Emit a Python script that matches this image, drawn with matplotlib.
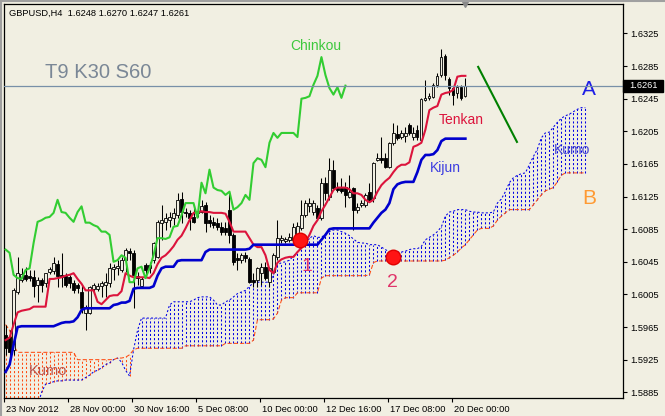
import numpy as np
import matplotlib
matplotlib.use('Agg')
import matplotlib.pyplot as plt
import matplotlib.transforms as mtransforms
from matplotlib.patches import Rectangle
from matplotlib.lines import Line2D

plt.rcParams['font.family'] = ['Liberation Sans', 'DejaVu Sans']

header = "GBPUSD,H4  1.6248 1.6270 1.6247 1.6261"
settings_text = "T9 K30 S60"
shift = 30  # kumo forward / chinkou backward shift

# H4 candles, bar 0 = 23 Nov 2012 08:00
opens = [1.5955, 1.5953, 1.5937, 1.6008, 1.6023, 1.6029, 1.6028, 1.6026, 1.6017, 1.6023,
         1.6019, 1.6033, 1.6034, 1.6042, 1.6029, 1.6028, 1.6026, 1.6019, 1.6017, 1.6008,
         1.5982, 1.5982, 1.6012, 1.6012, 1.6015, 1.6017, 1.6019, 1.6036, 1.6037, 1.6035,
         1.6047, 1.6058, 1.6056, 1.6028, 1.6015, 1.6041, 1.6041, 1.6047, 1.6051, 1.6093,
         1.6094, 1.6096, 1.6099, 1.6102, 1.6122, 1.6106, 1.6105, 1.6100, 1.6105, 1.6106,
         1.6115, 1.6096, 1.6094, 1.6093, 1.6088, 1.6086, 1.6109, 1.6078, 1.6050, 1.6047,
         1.6053, 1.6048, 1.6023, 1.6023, 1.6031, 1.6039, 1.6020, 1.6033, 1.6051, 1.6072,
         1.6071, 1.6072, 1.6072, 1.6077, 1.6086, 1.6102, 1.6113, 1.6106, 1.6111, 1.6099,
         1.6142, 1.6124, 1.6158, 1.6136, 1.6136, 1.6137, 1.6124, 1.6136, 1.6109, 1.6115,
         1.6115, 1.6131, 1.6123, 1.6170, 1.6172, 1.6172, 1.6161, 1.6191, 1.6202, 1.6198,
         1.6199, 1.6213, 1.6198, 1.6207, 1.6194, 1.6243, 1.6246, 1.6247, 1.6262, 1.6274,
         1.6297, 1.6269, 1.6258, 1.6252, 1.6259, 1.6248]
highs = [1.5968, 1.5961, 1.6013, 1.6051, 1.6037, 1.6039, 1.6035, 1.6035, 1.6026, 1.6025,
         1.6031, 1.6039, 1.6051, 1.6047, 1.6056, 1.6031, 1.6029, 1.6023, 1.6019, 1.6017,
         1.5992, 1.6015, 1.6019, 1.6019, 1.6021, 1.6031, 1.6044, 1.6042, 1.6047, 1.6051,
         1.6062, 1.6062, 1.6060, 1.6033, 1.6026, 1.6044, 1.6045, 1.6069, 1.6096, 1.6115,
         1.6105, 1.6106, 1.6111, 1.6129, 1.6131, 1.6111, 1.6109, 1.6115, 1.6112, 1.6121,
         1.6118, 1.6102, 1.6100, 1.6099, 1.6094, 1.6094, 1.6129, 1.6080, 1.6056, 1.6056,
         1.6057, 1.6051, 1.6031, 1.6039, 1.6044, 1.6045, 1.6039, 1.6056, 1.6096, 1.6078,
         1.6075, 1.6080, 1.6093, 1.6094, 1.6121, 1.6121, 1.6123, 1.6121, 1.6115, 1.6148,
         1.6149, 1.6172, 1.6170, 1.6143, 1.6148, 1.6143, 1.6151, 1.6137, 1.6117, 1.6121,
         1.6129, 1.6142, 1.6167, 1.6178, 1.6198, 1.6178, 1.6192, 1.6215, 1.6213, 1.6207,
         1.6210, 1.6215, 1.6210, 1.6213, 1.6246, 1.6268, 1.6252, 1.6264, 1.6276, 1.6306,
         1.6300, 1.6272, 1.6259, 1.6262, 1.6262, 1.6270]
lows = [1.5931, 1.5928, 1.5931, 1.6006, 1.6020, 1.6021, 1.6021, 1.6002, 1.5996, 1.6008,
        1.6014, 1.6030, 1.6030, 1.6014, 1.6014, 1.6014, 1.6013, 1.6007, 1.6007, 1.5982,
        1.5961, 1.5981, 1.6009, 1.6009, 1.6002, 1.6002, 1.6014, 1.6023, 1.6029, 1.6033,
        1.6033, 1.6047, 1.5988, 1.6017, 1.6014, 1.6026, 1.6031, 1.6044, 1.6050, 1.6072,
        1.6084, 1.6088, 1.6090, 1.6099, 1.6093, 1.6100, 1.6084, 1.6093, 1.6100, 1.6105,
        1.6082, 1.6088, 1.6086, 1.6084, 1.6078, 1.6078, 1.6068, 1.6041, 1.6035, 1.6044,
        1.6045, 1.6019, 1.6014, 1.6014, 1.6017, 1.6023, 1.6014, 1.6031, 1.6047, 1.6068,
        1.6068, 1.6069, 1.6068, 1.6072, 1.6084, 1.6100, 1.6106, 1.6102, 1.6096, 1.6096,
        1.6121, 1.6121, 1.6133, 1.6131, 1.6129, 1.6112, 1.6123, 1.6084, 1.6105, 1.6112,
        1.6112, 1.6118, 1.6118, 1.6169, 1.6166, 1.6160, 1.6160, 1.6188, 1.6194, 1.6196,
        1.6192, 1.6200, 1.6194, 1.6194, 1.6193, 1.6242, 1.6243, 1.6246, 1.6259, 1.6272,
        1.6268, 1.6250, 1.6237, 1.6246, 1.6243, 1.6247]
closes = [1.5939, 1.5934, 1.6010, 1.6031, 1.6030, 1.6024, 1.6025, 1.6015, 1.6023, 1.6017,
          1.6031, 1.6036, 1.6044, 1.6028, 1.6026, 1.6017, 1.6019, 1.6010, 1.6013, 1.5988,
          1.5990, 1.6014, 1.6017, 1.6015, 1.6019, 1.6020, 1.6037, 1.6039, 1.6040, 1.6047,
          1.6060, 1.6056, 1.6029, 1.6025, 1.6024, 1.6035, 1.6037, 1.6068, 1.6094, 1.6096,
          1.6099, 1.6100, 1.6105, 1.6121, 1.6106, 1.6105, 1.6099, 1.6094, 1.6106, 1.6113,
          1.6093, 1.6093, 1.6090, 1.6088, 1.6082, 1.6082, 1.6078, 1.6045, 1.6047, 1.6053,
          1.6050, 1.6020, 1.6020, 1.6037, 1.6039, 1.6025, 1.6037, 1.6053, 1.6074, 1.6074,
          1.6073, 1.6075, 1.6088, 1.6089, 1.6102, 1.6117, 1.6117, 1.6117, 1.6099, 1.6142,
          1.6129, 1.6158, 1.6136, 1.6133, 1.6132, 1.6127, 1.6131, 1.6109, 1.6112, 1.6117,
          1.6127, 1.6121, 1.6166, 1.6172, 1.6170, 1.6161, 1.6191, 1.6203, 1.6197, 1.6203,
          1.6203, 1.6203, 1.6203, 1.6198, 1.6245, 1.6246, 1.6248, 1.6262, 1.6273, 1.6296,
          1.6274, 1.6258, 1.6250, 1.6259, 1.6246, 1.6261]

tenkan = [1.5949, 1.5952, 1.5968, 1.5983, 1.5985, 1.5986, 1.5987, 1.5990, 1.5990, 1.5990,
          1.5990, 1.6024, 1.6024, 1.6025, 1.6026, 1.6028, 1.6029, 1.6031, 1.6024, 1.6018,
          1.6010, 1.6010, 1.6010, 1.5996, 1.5993, 1.5998, 1.6003, 1.6004, 1.6004, 1.6009,
          1.6031, 1.6028, 1.6026, 1.6026, 1.6026, 1.6026, 1.6025, 1.6031, 1.6042, 1.6050,
          1.6053, 1.6058, 1.6064, 1.6072, 1.6077, 1.6086, 1.6096, 1.6105, 1.6106, 1.6107,
          1.6106, 1.6106, 1.6105, 1.6105, 1.6105, 1.6104, 1.6094, 1.6082, 1.6082, 1.6082,
          1.6082, 1.6074, 1.6066, 1.6063, 1.6063, 1.6053, 1.6035, 1.6031, 1.6044, 1.6048,
          1.6050, 1.6051, 1.6051, 1.6057, 1.6062, 1.6069, 1.6078, 1.6089, 1.6096, 1.6107,
          1.6115, 1.6124, 1.6133, 1.6136, 1.6136, 1.6136, 1.6134, 1.6129, 1.6129, 1.6127,
          1.6121, 1.6118, 1.6121, 1.6131, 1.6139, 1.6144, 1.6148, 1.6155, 1.6161, 1.6164,
          1.6164, 1.6167, 1.6186, 1.6188, 1.6191, 1.6207, 1.6231, 1.6234, 1.6236, 1.6250,
          1.6252, 1.6253, 1.6256, 1.6272, 1.6273, 1.6273]
kijun = [1.5910, 1.5919, 1.5943, 1.5965, 1.5966, 1.5966, 1.5966, 1.5966, 1.5966, 1.5966,
         1.5966, 1.5966, 1.5966, 1.5968, 1.5970, 1.5971, 1.5971, 1.5972, 1.5977, 1.5986,
         1.5988, 1.5988, 1.5988, 1.5988, 1.5988, 1.5988, 1.5988, 1.5992, 1.5993, 1.5995,
         1.5995, 1.5997, 1.6012, 1.6013, 1.6013, 1.6013, 1.6013, 1.6015, 1.6028, 1.6037,
         1.6039, 1.6039, 1.6039, 1.6046, 1.6047, 1.6047, 1.6047, 1.6047, 1.6047, 1.6047,
         1.6057, 1.6060, 1.6060, 1.6060, 1.6060, 1.6060, 1.6060, 1.6060, 1.6060, 1.6060,
         1.6060, 1.6061, 1.6066, 1.6066, 1.6066, 1.6066, 1.6066, 1.6066, 1.6066, 1.6066,
         1.6066, 1.6066, 1.6066, 1.6066, 1.6066, 1.6066, 1.6066, 1.6066, 1.6066, 1.6072,
         1.6078, 1.6085, 1.6086, 1.6086, 1.6086, 1.6086, 1.6086, 1.6086, 1.6086, 1.6086,
         1.6086, 1.6086, 1.6093, 1.6099, 1.6105, 1.6109, 1.6117, 1.6134, 1.6140, 1.6142,
         1.6143, 1.6143, 1.6143, 1.6155, 1.6170, 1.6176, 1.6176, 1.6177, 1.6182, 1.6193,
         1.6196, 1.6196, 1.6196, 1.6196, 1.6196, 1.6196]

# senkou spans as plotted (already shifted 30 bars forward)
span_a = [1.5868, 1.5868, 1.5868, 1.5868, 1.5868, 1.5868, 1.5868, 1.5868, 1.5868, 1.5885,
          1.5895, 1.5896, 1.5898, 1.5899, 1.5899, 1.5900, 1.5900, 1.5900, 1.5900, 1.5900,
          1.5903, 1.5906, 1.5910, 1.5912, 1.5915, 1.5919, 1.5921, 1.5925, 1.5927, 1.5922,
          1.5912, 1.5905, 1.5937, 1.5961, 1.5976, 1.5976, 1.5976, 1.5976, 1.5976, 1.5976,
          1.5976, 1.5992, 1.5996, 1.5996, 1.5996, 1.5996, 1.5996, 1.5998, 1.6001, 1.6002,
          1.6002, 1.6002, 1.5998, 1.5992, 1.5992, 1.5996, 1.5998, 1.6002, 1.6006, 1.6008,
          1.6010, 1.6015, 1.6019, 1.6020, 1.6020, 1.6020, 1.6020, 1.6029, 1.6041, 1.6044,
          1.6045, 1.6047, 1.6052, 1.6057, 1.6063, 1.6069, 1.6074, 1.6077, 1.6075, 1.6075,
          1.6079, 1.6082, 1.6084, 1.6084, 1.6082, 1.6080, 1.6077, 1.6073, 1.6069, 1.6068,
          1.6068, 1.6066, 1.6066, 1.6066, 1.6063, 1.6060, 1.6057, 1.6057, 1.6057, 1.6057,
          1.6058, 1.6060, 1.6061, 1.6061, 1.6064, 1.6072, 1.6075, 1.6078, 1.6082, 1.6088,
          1.6101, 1.6106, 1.6107, 1.6109, 1.6109, 1.6109, 1.6107, 1.6106, 1.6106, 1.6105,
          1.6105, 1.6105, 1.6106, 1.6117, 1.6122, 1.6131, 1.6142, 1.6148, 1.6151, 1.6153,
          1.6154, 1.6164, 1.6174, 1.6183, 1.6197, 1.6203, 1.6204, 1.6210, 1.6216, 1.6221,
          1.6224, 1.6226, 1.6229, 1.6232, 1.6234, 1.6234]
span_b = [1.5968, 1.5961, 1.5943, 1.5934, 1.5934, 1.5934, 1.5934, 1.5934, 1.5934, 1.5934,
          1.5934, 1.5934, 1.5934, 1.5934, 1.5934, 1.5934, 1.5934, 1.5934, 1.5925, 1.5925,
          1.5925, 1.5925, 1.5925, 1.5925, 1.5925, 1.5925, 1.5925, 1.5925, 1.5927, 1.5927,
          1.5928, 1.5931, 1.5937, 1.5939, 1.5939, 1.5939, 1.5939, 1.5939, 1.5939, 1.5939,
          1.5939, 1.5939, 1.5939, 1.5939, 1.5939, 1.5942, 1.5942, 1.5942, 1.5942, 1.5942,
          1.5942, 1.5942, 1.5942, 1.5942, 1.5942, 1.5945, 1.5945, 1.5945, 1.5945, 1.5945,
          1.5945, 1.5945, 1.5949, 1.5974, 1.5974, 1.5974, 1.5974, 1.5975, 1.5982, 1.5998,
          1.6001, 1.6001, 1.6001, 1.6007, 1.6007, 1.6007, 1.6007, 1.6007, 1.6007, 1.6025,
          1.6028, 1.6028, 1.6028, 1.6028, 1.6028, 1.6028, 1.6028, 1.6028, 1.6028, 1.6028,
          1.6028, 1.6029, 1.6044, 1.6046, 1.6046, 1.6046, 1.6046, 1.6046, 1.6046, 1.6046,
          1.6046, 1.6046, 1.6046, 1.6046, 1.6046, 1.6046, 1.6046, 1.6046, 1.6046, 1.6046,
          1.6047, 1.6050, 1.6053, 1.6057, 1.6062, 1.6066, 1.6072, 1.6078, 1.6084, 1.6086,
          1.6086, 1.6086, 1.6089, 1.6096, 1.6101, 1.6105, 1.6109, 1.6109, 1.6109, 1.6109,
          1.6109, 1.6109, 1.6115, 1.6121, 1.6127, 1.6132, 1.6134, 1.6136, 1.6143, 1.6151,
          1.6154, 1.6154, 1.6154, 1.6154, 1.6154, 1.6154]

date_labels = ['23 Nov 2012', '28 Nov 00:00', '30 Nov 16:00', '5 Dec 08:00',
               '10 Dec 00:00', '12 Dec 16:00', '17 Dec 08:00', '20 Dec 00:00']
date_bars = [0, 16, 32, 48, 64, 80, 96, 112]
price_ticks = [1.5885, 1.5925, 1.5965, 1.6005, 1.6045, 1.6085,
               1.6125, 1.6165, 1.6205, 1.6245, 1.6285, 1.6325]

# user drawn objects
trend_x = [118.2, 127.9]
trend_y = [1.6284, 1.6192]
signal_x = [73.7, 96.9]
signal_y = [1.6072, 1.6051]

bg = '#F1EFE2'
c_tenkan = '#DC143C'
c_kijun = '#0000CD'
c_chinkou = '#32CD32'
c_a = '#0000E6'
c_b = '#FF4A10'

fig = plt.figure(figsize=(6.65, 4.16), dpi=100, facecolor=bg)
ax = fig.add_axes([4 / 665, 1 - 398 / 416, 619.3 / 665, 394 / 416])
ax.set_facecolor(bg)

o = np.array(opens); h = np.array(highs); l = np.array(lows); c = np.array(closes)
x = np.arange(len(c))

# kumo hatching: one dotted vertical per bar
a = np.array(span_a); b = np.array(span_b)
xk = np.arange(len(a))
cols = np.where(a >= b, c_a, c_b)
ax.vlines(xk, np.minimum(a, b), np.maximum(a, b), colors=cols,
          linestyles=(0, (2, 2)), lw=0.75, zorder=1)
ax.plot(xk, a, color=c_a, lw=0.75, ls=(0, (2, 2)), zorder=1)
ax.plot(xk, b, color=c_b, lw=0.75, ls=(0, (4, 2)), zorder=1)

# candles
up = c >= o
ax.vlines(x, l, h, color='black', lw=0.75, zorder=2)
ax.bar(x, np.maximum(np.abs(c - o), 0.00004), bottom=np.minimum(o, c), width=0.55,
       color=np.where(up, bg, 'black'), edgecolor='black', lw=0.6, zorder=3)

# ichimoku lines
ax.plot(x, tenkan, color=c_tenkan, lw=1.5, zorder=4)
ax.plot(x, kijun, color=c_kijun, lw=1.9, zorder=4)
ax.plot(x[shift:] - shift, c[shift:], color=c_chinkou, lw=1.5, zorder=4)

# current price line
ax.axhline(c[-1], color='#7890A8', lw=0.9, zorder=5)

# trend line and signal points
ax.plot(trend_x, trend_y, color='#008000', lw=1.5, zorder=6)
ax.plot(signal_x, signal_y, 'o', ms=10.5, color='#FF1414', mec='#E00000', zorder=7)

# labels on chart
ax.text(9.9, 1.6270, settings_text, fontsize=14.5, color='#7A8796', va='baseline')
ax.text(77.7, 1.6310, 'Chinkou', fontsize=10, color='#3CC83C', ha='center', va='center')
ax.text(113.9, 1.6219, 'Tenkan', fontsize=10, color=c_tenkan, ha='center', va='center')
ax.text(110.1, 1.6160, 'Kijun', fontsize=10, color='#3C3CE0', ha='center', va='center')
ax.text(141.8, 1.6182, 'Kumo', fontsize=10, color='#4646D2', ha='center', va='center')
ax.text(10.7, 1.5911, 'Kumo', fontsize=10.5, color='#B85450', ha='center', va='center')
ax.text(146.0, 1.6256, 'A', fontsize=15, color='#1E1EE6', ha='center', va='center')
ax.text(146.0, 1.6123, 'B', fontsize=15, color='#FF9A33', ha='center', va='center')
ax.text(75.4, 1.6039, '1', fontsize=14, color='#E0356A', ha='center', va='center')
ax.text(96.7, 1.6020, '2', fontsize=14, color='#E0356A', ha='center', va='center')

ax.set_xlim(-0.33, 154.5)
ax.set_ylim(1.58780, 1.63611)

for s in ax.spines.values():
    s.set_color('black')
    s.set_linewidth(0.9)

ax.yaxis.tick_right()
ax.set_yticks(price_ticks)
ax.set_yticklabels(['%.4f' % p for p in price_ticks])
ax.tick_params(axis='y', length=3, width=0.8, pad=2, labelsize=6.7, colors='black')

ax.set_xticks([d - 0.4 for d in date_bars])
ax.set_xticklabels(date_labels)
ax.tick_params(axis='x', length=3, width=0.8, pad=2, labelsize=6.7, colors='black')
off = mtransforms.ScaledTranslation(2 / 100, 0, fig.dpi_scale_trans)
for lab in ax.get_xticklabels():
    lab.set_horizontalalignment('left')
    lab.set_transform(lab.get_transform() + off)

# last price box on the price scale
blend = mtransforms.blended_transform_factory(ax.transAxes, ax.transData)
ax.add_patch(Rectangle((1.0, c[-1] - 0.00074), 40 / 619.3, 0.00148, transform=blend,
                       facecolor='black', edgecolor='black', clip_on=False, zorder=10))
ax.text(1.0 + 5.5 / 619.3, c[-1], '%.4f' % c[-1], transform=blend, color='white',
        fontsize=6.7, va='center', ha='left', clip_on=False, zorder=11)

# chart shift marker
ax.plot([x[-1]], [1.63611], marker='v', ms=5, color='#8A8A8A', clip_on=False, zorder=10)

fig.text(9 / 665, 1 - 13 / 416, header, fontsize=6.7, va='center', ha='left')
fig.add_artist(Line2D([0, 1], [0.998, 0.998], color='#A0A0A0', lw=1.5, transform=fig.transFigure))
fig.add_artist(Line2D([0.0015, 0.0015], [0, 1], color='#A0A0A0', lw=1.5, transform=fig.transFigure))

fig.savefig('out.png', dpi=100, facecolor=bg)
